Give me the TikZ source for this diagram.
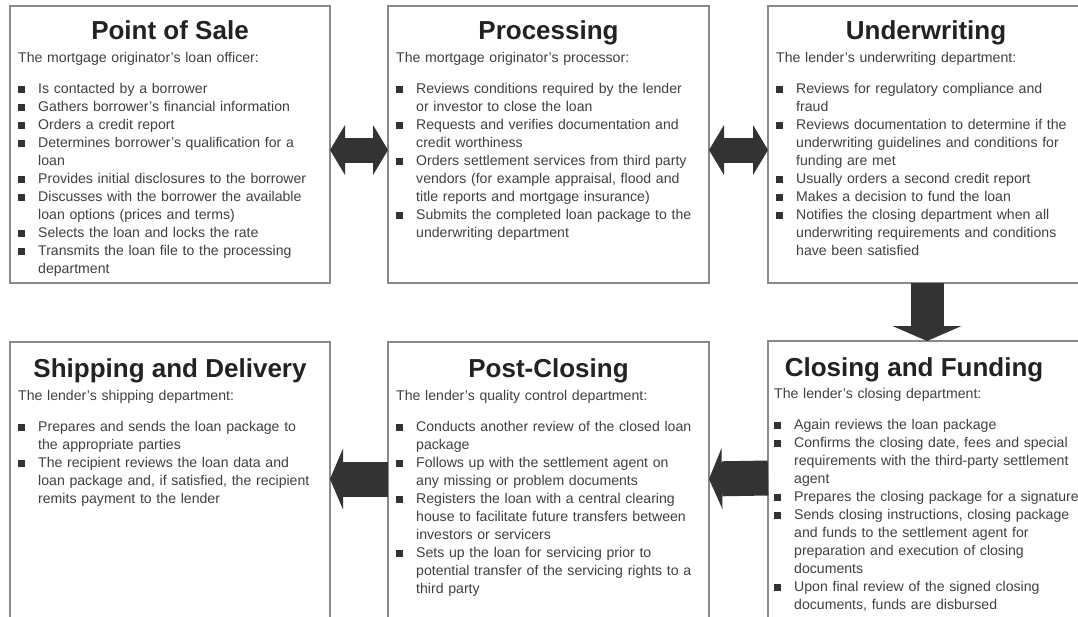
\documentclass[tikz,border=0pt]{standalone}
\usepackage{fontspec}
\setmainfont{Liberation Sans}
\usetikzlibrary{arrows.meta,calc}
\definecolor{boxline}{HTML}{8A8A8A}
\definecolor{arrowc}{HTML}{333333}
\definecolor{bodyc}{HTML}{404040}
\definecolor{titlec}{HTML}{222222}
\newcommand{\sqb}{\textcolor{arrowc}{\rule[0.4pt]{7pt}{7pt}}}
\newcommand{\itm}[1]{\hangindent=20pt\hangafter=1\noindent\makebox[20pt][l]{\sqb}#1\par}
\newcommand{\intro}[1]{\noindent\rule{0pt}{11pt}#1\par\vspace{13pt}}
\newcommand{\nl}{\newline}
\tikzset{
  box/.style={draw=boxline, line width=1.5pt, fill=white, rectangle, inner sep=0pt, outer sep=0pt, anchor=north west},
  ttl/.style={font=\fontsize{26}{30}\selectfont\bfseries, text=titlec, anchor=base, inner sep=0pt},
  body/.style={font=\fontsize{14.1}{18}\selectfont, text=bodyc, text width=380pt, anchor=north west, inner sep=0pt},
  dbl/.style={draw=arrowc, line width=25pt, arrows={Triangle[width=50pt,length=15pt,line width=0pt]-Triangle[width=50pt,length=15pt,line width=0pt]}},
  downarr/.style={draw=arrowc, line width=33pt, arrows={-Triangle[width=69pt,length=15pt,line width=0pt]}},
  leftarr/.style={draw=arrowc, line width=35pt, arrows={-Triangle[width=61pt,length=13pt,line width=0pt]}}
}
\begin{document}
\begin{tikzpicture}[x=1pt,y=-1pt]
\useasboundingbox (0,0) rectangle (1078,616);
\clip (0,0) rectangle (1078,616);
\fill[white] (0,0) rectangle (1078,616);
% boxes
\node[box, minimum width=320pt, minimum height=277pt] (pos) at (10,6) {};
\node[box, minimum width=321pt, minimum height=277pt] (proc) at (388,6) {};
\node[box, minimum width=322pt, minimum height=277pt] (under) at (768,6) {};
\node[box, minimum width=320pt, minimum height=300pt] (ship) at (10,342) {};
\node[box, minimum width=321pt, minimum height=300pt] (postc) at (388,342) {};
\node[box, minimum width=322pt, minimum height=300pt] (clos) at (768,341) {};
% titles
\node[ttl] (posT) at ([yshift=-33pt]pos.north) {Point of Sale};
\node[ttl] (procT) at ([yshift=-33pt]proc.north) {Processing};
\node[ttl] (underT) at ([xshift=-3pt,yshift=-33pt]under.north) {Underwriting};
\node[ttl] (shipT) at ([yshift=-35pt]ship.north) {Shipping and Delivery};
\node[ttl] (postcT) at ([yshift=-35pt]postc.north) {Post-Closing};
\node[ttl] (closT) at ([xshift=-15pt,yshift=-35pt]clos.north) {Closing and Funding};
% bodies
\node[body] (posB) at ([xshift=8pt,yshift=-45pt]pos.north west) {%
\intro{The mortgage originator’s loan officer:}
\itm{Is contacted by a borrower}
\itm{Gathers borrower’s financial information}
\itm{Orders a credit report}
\itm{Determines borrower’s qualification for a\nl loan}
\itm{Provides initial disclosures to the borrower}
\itm{Discusses with the borrower the available\nl loan options (prices and terms)}
\itm{Selects the loan and locks the rate}
\itm{Transmits the loan file to the processing\nl department}};
\node[body] (procB) at ([xshift=8pt,yshift=-45pt]proc.north west) {%
\intro{The mortgage originator’s processor:}
\itm{Reviews conditions required by the lender\nl or investor to close the loan}
\itm{Requests and verifies documentation and\nl credit worthiness}
\itm{Orders settlement services from third party\nl vendors (for example appraisal, flood and\nl title reports and mortgage insurance)}
\itm{Submits the completed loan package to the\nl underwriting department}};
\node[body] (underB) at ([xshift=8pt,yshift=-45pt]under.north west) {%
\intro{The lender’s underwriting department:}
\itm{Reviews for regulatory compliance and\nl fraud}
\itm{Reviews documentation to determine if the\nl underwriting guidelines and conditions for\nl funding are met}
\itm{Usually orders a second credit report}
\itm{Makes a decision to fund the loan}
\itm{Notifies the closing department when all\nl underwriting requirements and conditions\nl have been satisfied}};
\node[body] (shipB) at ([xshift=8pt,yshift=-47pt]ship.north west) {%
\intro{The lender’s shipping department:}
\itm{Prepares and sends the loan package to\nl the appropriate parties}
\itm{The recipient reviews the loan data and\nl loan package and, if satisfied, the recipient\nl remits payment to the lender}};
\node[body] (postcB) at ([xshift=8pt,yshift=-47pt]postc.north west) {%
\intro{The lender’s quality control department:}
\itm{Conducts another review of the closed loan\nl package}
\itm{Follows up with the settlement agent on\nl any missing or problem documents}
\itm{Registers the loan with a central clearing\nl house to facilitate future transfers between\nl investors or servicers}
\itm{Sets up the loan for servicing prior to\nl potential transfer of the servicing rights to a\nl third party}};
\node[body] (closB) at ([xshift=6pt,yshift=-46pt]clos.north west) {%
\intro{The lender’s closing department:}
\itm{Again reviews the loan package}
\itm{Confirms the closing date, fees and special\nl requirements with the third-party settlement\nl agent}
\itm{Prepares the closing package for a signature}
\itm{Sends closing instructions, closing package\nl and funds to the settlement agent for\nl preparation and execution of closing\nl documents}
\itm{Upon final review of the signed closing\nl documents, funds are disbursed}};
% arrows
\draw[dbl] ([yshift=-5.5pt]pos.east) -- ([yshift=-5.5pt]proc.west);
\draw[dbl] ([yshift=-5.5pt]proc.east) -- ([yshift=-5.5pt]under.west);
\draw[downarr] ([xshift=-2pt]under.south) -- ([xshift=-2pt]clos.north);
\draw[leftarr] ([yshift=13pt]clos.west) -- ([yshift=13pt]postc.east);
\draw[leftarr] ([yshift=13pt]postc.west) -- ([yshift=13pt]ship.east);
\end{tikzpicture}
\end{document}
